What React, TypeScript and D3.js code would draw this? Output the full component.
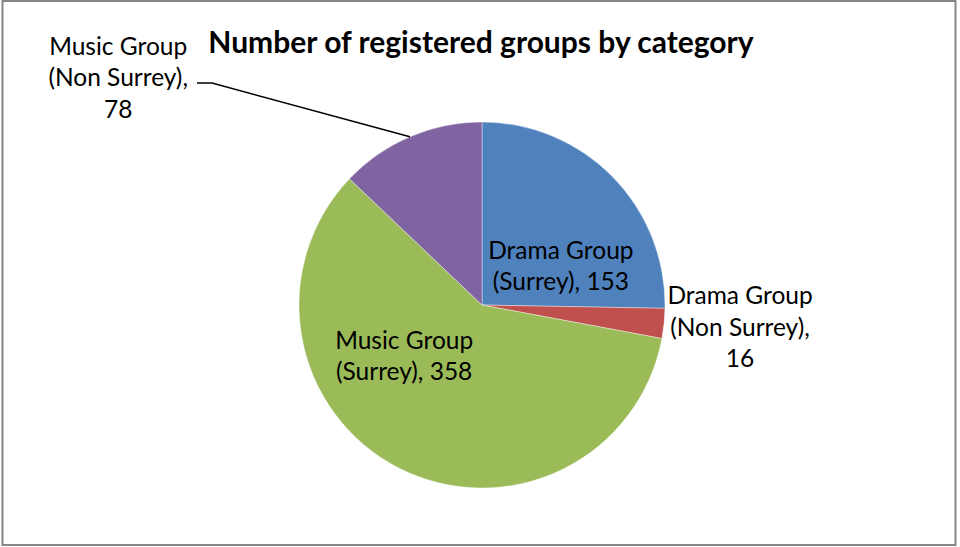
import React from 'react';
import * as d3 from 'd3';

const categories = ['Drama Group (Surrey)', 'Drama Group (Non Surrey)', 'Music Group (Surrey)', 'Music Group (Non Surrey)'];
const values = [153, 16, 358, 78];
const colors = ['#4F81BD', '#C0504D', '#9BBB59', '#8064A2'];
const labelLines = [
  ['Drama Group', '(Surrey), 153'],
  ['Drama Group', '(Non Surrey),', '16'],
  ['Music Group', '(Surrey), 358'],
  ['Music Group', '(Non Surrey),', '78'],
];

const W = 960, H = 547;
const FONT = 'Lato, "Open Sans", sans-serif';

const App: React.FC = () => {
  const cx = 482, cy = 305, r = 183;
  const pie = d3.pie<number>().sort(null).value((d) => d);
  const arcs = pie(values);
  const arc = d3.arc<d3.PieArcDatum<number>>().innerRadius(0).outerRadius(r);
  const lineH = 31.5;

  // label anchors: polar around centre (deg from top clockwise, radius) for each slice
  const anchors = [
    { a: 63.7, rr: 88 },
    { a: 94.9, rr: 259 },
    { a: 236.8, rr: 93 },
    { a: 302, rr: 429 },
  ];

  const purple = arcs[3];
  const mid = (purple.startAngle + purple.endAngle) / 2;
  const edge: [number, number] = [cx + r * Math.sin(mid), cy - r * Math.cos(mid)];

  return (
    <svg width={W} height={H} style={{ position: 'absolute', left: 0, top: 0, background: '#fff' }}>
      <rect x={2.5} y={1} width={953} height={544} fill="#fff" stroke="#868686" strokeWidth={2} />
      <text x={481} y={53} textAnchor="middle" fontFamily={FONT} fontWeight="bold" fontSize={30} fill="#000">
        Number of registered groups by category
      </text>
      <g transform={`translate(${cx},${cy})`}>
        {arcs.map((d, i) => (
          <path key={categories[i]} d={arc(d) || ''} fill={colors[i]} stroke="#fff" strokeWidth={0.4} />
        ))}
      </g>
      <polyline
        points={`197,83 212,83 ${edge[0]},${edge[1]}`}
        fill="none"
        stroke="#000"
        strokeWidth={1.5}
      />
      {labelLines.map((lines, i) => {
        const ang = (anchors[i].a * Math.PI) / 180;
        const lx = cx + anchors[i].rr * Math.sin(ang);
        const ly = cy - anchors[i].rr * Math.cos(ang);
        const y0 = ly - ((lines.length - 1) * lineH) / 2;
        return (
          <text key={i} textAnchor="middle" fontFamily={FONT} fontSize={24.5} fill="#000">
            {lines.map((t, j) => (
              <tspan key={j} x={lx} y={y0 + j * lineH} dy="0.35em">{t}</tspan>
            ))}
          </text>
        );
      })}
    </svg>
  );
};

export default App;
